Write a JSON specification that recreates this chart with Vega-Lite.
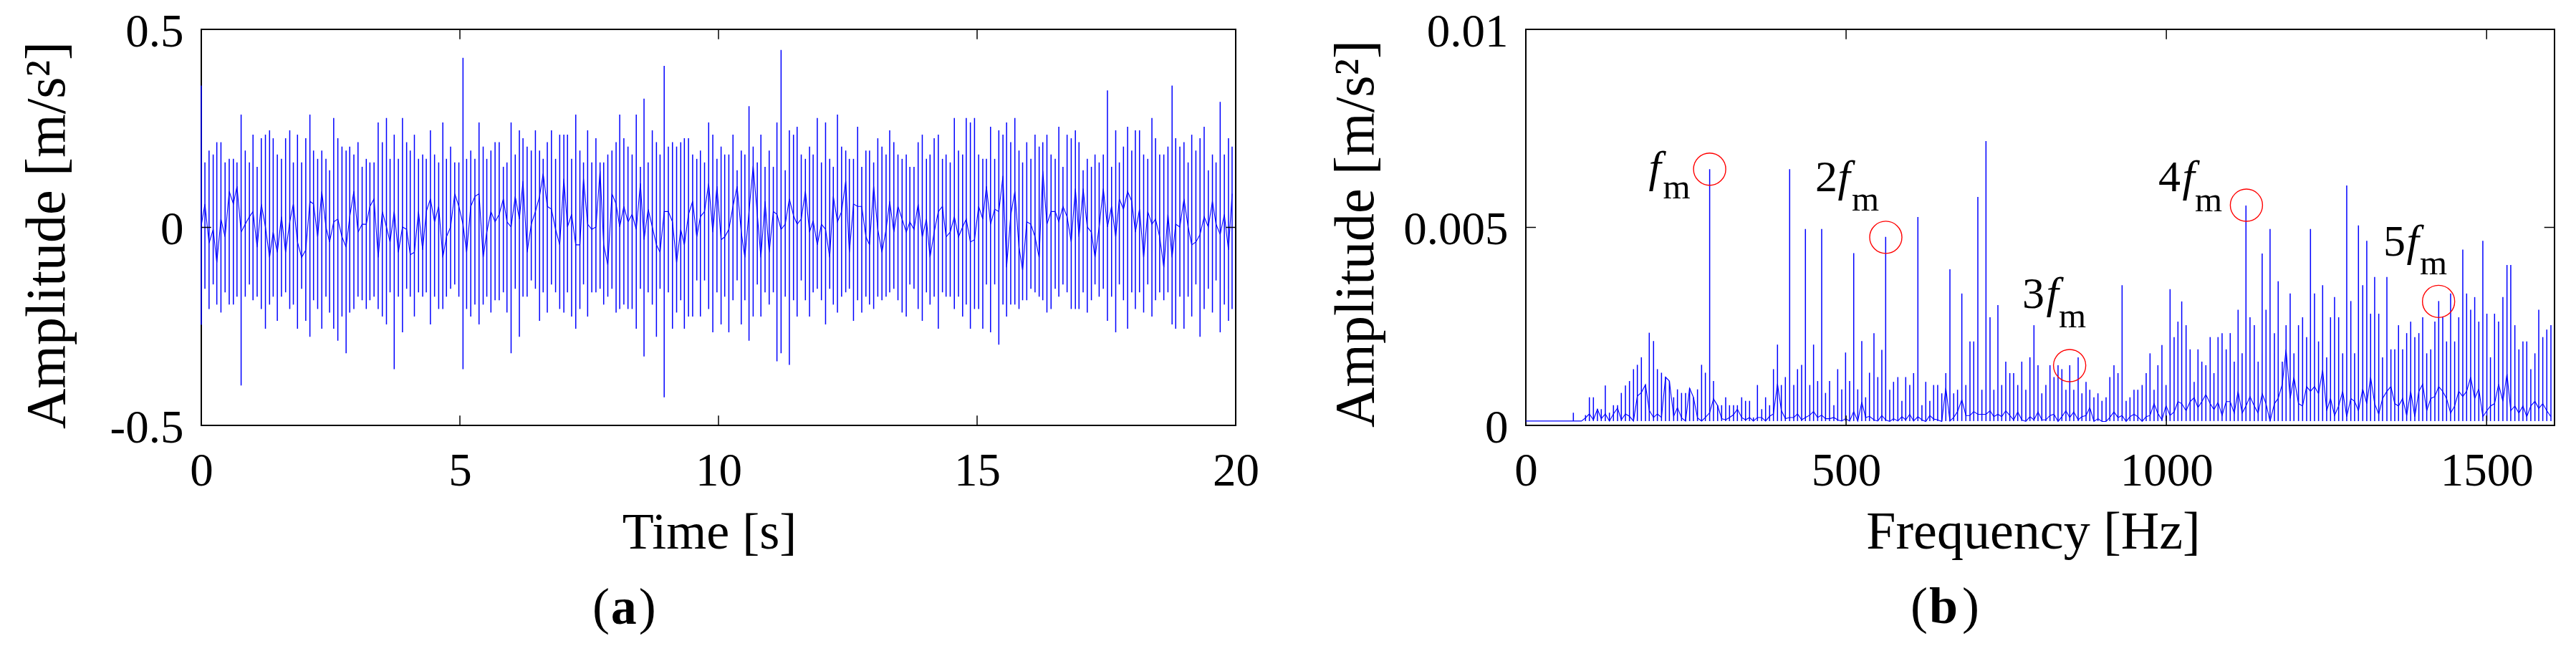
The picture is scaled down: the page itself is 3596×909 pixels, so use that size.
{
"$schema":"https://vega.github.io/schema/vega-lite/v6.json",
"background":"white",
"autosize":"none",
"padding":{"left":281,"top":41,"right":3315,"bottom":868},
"bounds":"flush",
"spacing":405,
"config":{
"view":{"stroke":"#000","strokeWidth":2},
"axis":{"domain":false,"ticks":false,"grid":false,"labelFont":"Liberation Serif","labelFontSize":65,"labelColor":"#000","labelOverlap":false,"labelFlush":false,"titleFont":"Liberation Serif","titleFontSize":72,"titleFontWeight":"normal","titleColor":"#000","titleBaseline":"alphabetic"},
"axisX":{"labelPadding":32},
"axisY":{"labelPadding":25,"labelOffset":3,"titleFontSize":78}
},
"datasets":{
"time":[
{"x":0,"y":0.358,"y2":-0.246,"m":0.005},
{"x":0.07,"y":0.164,"y2":-0.155,"m":0.059},{"x":0.15,"y":0.194,"y2":-0.206,"m":-0.04},{"x":0.23,"y":0.184,"y2":-0.144,"m":-0.005},{"x":0.30,"y":0.215,"y2":-0.195,"m":-0.089},{"x":0.38,"y":0.215,"y2":-0.215,"m":0.021},{"x":0.46,"y":0.164,"y2":-0.164,"m":-0.024},{"x":0.54,"y":0.173,"y2":-0.195,"m":0.091},{"x":0.62,"y":0.173,"y2":-0.195,"m":0.059},{"x":0.69,"y":0.164,"y2":-0.175,"m":0.104},{"x":0.77,"y":0.285,"y2":-0.399,"m":-0.012},
{"x":0.85,"y":0.194,"y2":-0.175,"m":0.008},{"x":0.93,"y":0.164,"y2":-0.144,"m":0.027},{"x":1.00,"y":0.234,"y2":-0.184,"m":0.04},{"x":1.08,"y":0.153,"y2":-0.175,"m":-0.05},{"x":1.16,"y":0.225,"y2":-0.206,"m":0.059},{"x":1.24,"y":0.234,"y2":-0.256,"m":0.001},{"x":1.32,"y":0.245,"y2":-0.195,"m":-0.076},{"x":1.39,"y":0.225,"y2":-0.175,"m":-0.012},{"x":1.47,"y":0.184,"y2":-0.236,"m":-0.063},{"x":1.55,"y":0.173,"y2":-0.175,"m":0.027},
{"x":1.63,"y":0.225,"y2":-0.164,"m":-0.063},{"x":1.71,"y":0.245,"y2":-0.206,"m":0.014},{"x":1.78,"y":0.164,"y2":-0.195,"m":0.059},{"x":1.86,"y":0.234,"y2":-0.256,"m":-0.037},{"x":1.94,"y":0.164,"y2":-0.155,"m":-0.076},{"x":2.02,"y":0.225,"y2":-0.236,"m":-0.057},{"x":2.10,"y":0.285,"y2":-0.276,"m":0.066},{"x":2.17,"y":0.194,"y2":-0.184,"m":0.059},{"x":2.25,"y":0.173,"y2":-0.206,"m":-0.024},{"x":2.33,"y":0.194,"y2":-0.256,"m":0.091},
{"x":2.41,"y":0.173,"y2":-0.175,"m":0.001},{"x":2.48,"y":0.144,"y2":-0.215,"m":-0.037},{"x":2.56,"y":0.276,"y2":-0.256,"m":0.014},{"x":2.64,"y":0.225,"y2":-0.286,"m":0.021},{"x":2.72,"y":0.204,"y2":-0.225,"m":-0.024},{"x":2.80,"y":0.194,"y2":-0.318,"m":-0.05},{"x":2.87,"y":0.204,"y2":-0.215,"m":0.027},{"x":2.95,"y":0.184,"y2":-0.206,"m":0.091},{"x":3.03,"y":0.215,"y2":-0.175,"m":-0.012},{"x":3.11,"y":0.153,"y2":-0.184,"m":0.008},
{"x":3.19,"y":0.173,"y2":-0.206,"m":0.008},{"x":3.26,"y":0.164,"y2":-0.184,"m":0.053},{"x":3.34,"y":0.164,"y2":-0.175,"m":0.072},{"x":3.42,"y":0.265,"y2":-0.206,"m":-0.076},{"x":3.50,"y":0.215,"y2":-0.225,"m":0.04},{"x":3.58,"y":0.276,"y2":-0.245,"m":0.001},{"x":3.65,"y":0.173,"y2":-0.164,"m":-0.037},{"x":3.73,"y":0.234,"y2":-0.358,"m":0.04},{"x":3.81,"y":0.173,"y2":-0.175,"m":-0.063},{"x":3.89,"y":0.276,"y2":-0.265,"m":0.001},
{"x":3.97,"y":0.215,"y2":-0.155,"m":-0.005},{"x":4.04,"y":0.194,"y2":-0.175,"m":-0.069},{"x":4.12,"y":0.234,"y2":-0.225,"m":-0.063},{"x":4.20,"y":0.173,"y2":-0.164,"m":0.04},{"x":4.28,"y":0.184,"y2":-0.175,"m":-0.057},{"x":4.35,"y":0.173,"y2":-0.164,"m":0.04},{"x":4.43,"y":0.245,"y2":-0.245,"m":0.072},{"x":4.51,"y":0.184,"y2":-0.175,"m":0.014},{"x":4.59,"y":0.164,"y2":-0.206,"m":0.053},{"x":4.67,"y":0.265,"y2":-0.206,"m":-0.076},
{"x":4.74,"y":0.173,"y2":-0.175,"m":-0.024},{"x":4.82,"y":0.204,"y2":-0.155,"m":0.001},{"x":4.90,"y":0.164,"y2":-0.144,"m":0.085},{"x":4.98,"y":0.164,"y2":-0.175,"m":0.053},{"x":5.06,"y":0.428,"y2":-0.358,"m":0.008},{"x":5.13,"y":0.173,"y2":-0.206,"m":-0.063},{"x":5.21,"y":0.194,"y2":-0.225,"m":0.053},{"x":5.29,"y":0.173,"y2":-0.195,"m":0.078},{"x":5.37,"y":0.265,"y2":-0.245,"m":0.085},{"x":5.45,"y":0.204,"y2":-0.195,"m":-0.076},
{"x":5.52,"y":0.173,"y2":-0.175,"m":-0.012},{"x":5.60,"y":0.194,"y2":-0.215,"m":0.04},{"x":5.68,"y":0.215,"y2":-0.184,"m":0.014},{"x":5.76,"y":0.215,"y2":-0.184,"m":0.033},{"x":5.84,"y":0.153,"y2":-0.164,"m":0.072},{"x":5.91,"y":0.164,"y2":-0.215,"m":0.014},{"x":5.99,"y":0.265,"y2":-0.318,"m":0.001},{"x":6.07,"y":0.184,"y2":-0.155,"m":0.078},{"x":6.15,"y":0.245,"y2":-0.276,"m":0.021},{"x":6.22,"y":0.225,"y2":-0.175,"m":0.117},
{"x":6.30,"y":0.204,"y2":-0.175,"m":-0.063},{"x":6.38,"y":0.194,"y2":-0.134,"m":0.008},{"x":6.46,"y":0.245,"y2":-0.155,"m":0.04},{"x":6.54,"y":0.194,"y2":-0.236,"m":0.078},{"x":6.61,"y":0.173,"y2":-0.164,"m":0.136},{"x":6.69,"y":0.215,"y2":-0.215,"m":0.053},{"x":6.77,"y":0.245,"y2":-0.144,"m":0.046},{"x":6.85,"y":0.173,"y2":-0.164,"m":-0.005},{"x":6.93,"y":0.234,"y2":-0.206,"m":-0.044},{"x":7.01,"y":0.234,"y2":-0.215,"m":0.123},
{"x":7.08,"y":0.234,"y2":-0.164,"m":0.001},{"x":7.16,"y":0.173,"y2":-0.225,"m":0.033},{"x":7.24,"y":0.285,"y2":-0.256,"m":-0.044},{"x":7.32,"y":0.194,"y2":-0.206,"m":-0.044},{"x":7.39,"y":0.164,"y2":-0.144,"m":0.123},{"x":7.47,"y":0.245,"y2":-0.225,"m":0.008},{"x":7.55,"y":0.164,"y2":-0.164,"m":-0.005},{"x":7.63,"y":0.225,"y2":-0.164,"m":0.001},{"x":7.71,"y":0.164,"y2":-0.155,"m":0.143},{"x":7.78,"y":0.164,"y2":-0.195,"m":-0.044},
{"x":7.86,"y":0.184,"y2":-0.175,"m":-0.095},{"x":7.94,"y":0.194,"y2":-0.155,"m":0.085},{"x":8.02,"y":0.215,"y2":-0.215,"m":0.059},{"x":8.09,"y":0.285,"y2":-0.206,"m":0.001},{"x":8.17,"y":0.225,"y2":-0.195,"m":0.053},{"x":8.25,"y":0.204,"y2":-0.206,"m":0.014},{"x":8.33,"y":0.184,"y2":-0.206,"m":0.033},{"x":8.41,"y":0.285,"y2":-0.256,"m":-0.005},{"x":8.49,"y":0.153,"y2":-0.155,"m":0.111},{"x":8.56,"y":0.325,"y2":-0.326,"m":-0.031},
{"x":8.64,"y":0.164,"y2":-0.164,"m":0.046},{"x":8.72,"y":0.245,"y2":-0.195,"m":0.001},{"x":8.80,"y":0.215,"y2":-0.276,"m":-0.044},{"x":8.87,"y":0.184,"y2":-0.155,"m":-0.063},{"x":8.95,"y":0.408,"y2":-0.429,"m":0.04},{"x":9.03,"y":0.204,"y2":-0.164,"m":0.04},{"x":9.11,"y":0.215,"y2":-0.256,"m":0.014},{"x":9.19,"y":0.204,"y2":-0.215,"m":-0.089},{"x":9.27,"y":0.215,"y2":-0.184,"m":-0.005},{"x":9.34,"y":0.225,"y2":-0.256,"m":-0.044},
{"x":9.42,"y":0.225,"y2":-0.225,"m":0.033},{"x":9.50,"y":0.184,"y2":-0.225,"m":0.066},{"x":9.58,"y":0.173,"y2":-0.134,"m":-0.024},{"x":9.65,"y":0.194,"y2":-0.225,"m":0.027},{"x":9.73,"y":0.164,"y2":-0.134,"m":0.04},{"x":9.81,"y":0.265,"y2":-0.206,"m":0.111},{"x":9.89,"y":0.234,"y2":-0.265,"m":-0.012},{"x":9.97,"y":0.173,"y2":-0.164,"m":0.104},{"x":10.05,"y":0.204,"y2":-0.245,"m":-0.031},{"x":10.12,"y":0.184,"y2":-0.175,"m":-0.024},
{"x":10.20,"y":0.184,"y2":-0.265,"m":-0.005},{"x":10.28,"y":0.234,"y2":-0.184,"m":0.053},{"x":10.36,"y":0.144,"y2":-0.134,"m":0.104},{"x":10.44,"y":0.194,"y2":-0.245,"m":-0.012},{"x":10.51,"y":0.184,"y2":-0.184,"m":-0.076},{"x":10.59,"y":0.306,"y2":-0.286,"m":0.04},{"x":10.67,"y":0.204,"y2":-0.225,"m":0.155},{"x":10.75,"y":0.164,"y2":-0.144,"m":0.033},{"x":10.82,"y":0.234,"y2":-0.225,"m":-0.076},{"x":10.90,"y":0.153,"y2":-0.164,"m":0.066},
{"x":10.98,"y":0.194,"y2":-0.195,"m":-0.063},{"x":11.06,"y":0.153,"y2":-0.164,"m":0.04},{"x":11.13,"y":0.265,"y2":-0.338,"m":0.033},{"x":11.21,"y":0.448,"y2":-0.318,"m":-0.005},{"x":11.29,"y":0.144,"y2":-0.175,"m":0.008},{"x":11.37,"y":0.245,"y2":-0.347,"m":0.072},{"x":11.45,"y":0.234,"y2":-0.184,"m":0.03},{"x":11.52,"y":0.254,"y2":-0.225,"m":0.008},{"x":11.60,"y":0.184,"y2":-0.134,"m":0.021},{"x":11.68,"y":0.173,"y2":-0.184,"m":0.091},
{"x":11.76,"y":0.204,"y2":-0.225,"m":-0.012},{"x":11.83,"y":0.184,"y2":-0.164,"m":0.017},{"x":11.91,"y":0.276,"y2":-0.155,"m":-0.044},{"x":11.99,"y":0.164,"y2":-0.184,"m":0.008},{"x":12.07,"y":0.265,"y2":-0.245,"m":-0.005},{"x":12.15,"y":0.173,"y2":-0.155,"m":-0.076},{"x":12.22,"y":0.153,"y2":-0.195,"m":0.078},{"x":12.30,"y":0.285,"y2":-0.215,"m":0.014},{"x":12.38,"y":0.204,"y2":-0.175,"m":0.04},{"x":12.46,"y":0.194,"y2":-0.164,"m":0.117},
{"x":12.53,"y":0.173,"y2":-0.155,"m":-0.063},{"x":12.61,"y":0.173,"y2":-0.236,"m":0.059},{"x":12.69,"y":0.254,"y2":-0.184,"m":0.053},{"x":12.77,"y":0.153,"y2":-0.215,"m":0.053},{"x":12.85,"y":0.194,"y2":-0.175,"m":-0.024},{"x":12.92,"y":0.194,"y2":-0.195,"m":-0.044},{"x":13.00,"y":0.164,"y2":-0.206,"m":0.104},{"x":13.08,"y":0.225,"y2":-0.175,"m":-0.005},{"x":13.16,"y":0.204,"y2":-0.184,"m":-0.063},{"x":13.24,"y":0.184,"y2":-0.175,"m":-0.005},
{"x":13.31,"y":0.245,"y2":-0.164,"m":0.066},{"x":13.39,"y":0.215,"y2":-0.155,"m":-0.012},{"x":13.47,"y":0.184,"y2":-0.184,"m":0.053},{"x":13.55,"y":0.173,"y2":-0.215,"m":0.021},{"x":13.63,"y":0.184,"y2":-0.225,"m":-0.012},{"x":13.70,"y":0.153,"y2":-0.144,"m":0.014},{"x":13.78,"y":0.153,"y2":-0.155,"m":-0.005},{"x":13.86,"y":0.215,"y2":-0.206,"m":0.059},{"x":13.94,"y":0.234,"y2":-0.236,"m":-0.024},{"x":14.02,"y":0.173,"y2":-0.164,"m":0.021},
{"x":14.09,"y":0.184,"y2":-0.195,"m":-0.076},{"x":14.17,"y":0.225,"y2":-0.175,"m":-0.012},{"x":14.25,"y":0.234,"y2":-0.256,"m":0.04},{"x":14.33,"y":0.173,"y2":-0.164,"m":0.053},{"x":14.40,"y":0.184,"y2":-0.175,"m":-0.024},{"x":14.48,"y":0.164,"y2":-0.175,"m":-0.012},{"x":14.56,"y":0.276,"y2":-0.206,"m":0.027},{"x":14.64,"y":0.194,"y2":-0.175,"m":-0.024},{"x":14.72,"y":0.184,"y2":-0.225,"m":0.001},{"x":14.79,"y":0.276,"y2":-0.195,"m":0.021},
{"x":14.87,"y":0.265,"y2":-0.256,"m":-0.037},{"x":14.95,"y":0.276,"y2":-0.206,"m":-0.031},{"x":15.03,"y":0.184,"y2":-0.206,"m":0.053},{"x":15.11,"y":0.173,"y2":-0.256,"m":0.021},{"x":15.18,"y":0.173,"y2":-0.144,"m":0.104},{"x":15.26,"y":0.254,"y2":-0.265,"m":0.008},{"x":15.34,"y":0.173,"y2":-0.144,"m":0.046},{"x":15.42,"y":0.245,"y2":-0.296,"m":0.04},{"x":15.50,"y":0.234,"y2":-0.195,"m":0.13},{"x":15.57,"y":0.265,"y2":-0.225,"m":-0.101},
{"x":15.65,"y":0.215,"y2":-0.195,"m":0.03},{"x":15.73,"y":0.276,"y2":-0.195,"m":0.091},{"x":15.81,"y":0.194,"y2":-0.206,"m":-0.05},{"x":15.88,"y":0.164,"y2":-0.184,"m":-0.108},{"x":15.96,"y":0.215,"y2":-0.184,"m":0.014},{"x":16.04,"y":0.173,"y2":-0.155,"m":0.008},{"x":16.12,"y":0.234,"y2":-0.164,"m":-0.024},{"x":16.20,"y":0.204,"y2":-0.175,"m":-0.076},{"x":16.27,"y":0.215,"y2":-0.184,"m":0.143},{"x":16.35,"y":0.234,"y2":-0.215,"m":0.008},
{"x":16.43,"y":0.184,"y2":-0.206,"m":0.04},{"x":16.51,"y":0.173,"y2":-0.155,"m":0.04},{"x":16.58,"y":0.254,"y2":-0.175,"m":0.014},{"x":16.66,"y":0.153,"y2":-0.144,"m":0.053},{"x":16.74,"y":0.234,"y2":-0.164,"m":0.027},{"x":16.82,"y":0.225,"y2":-0.206,"m":-0.037},{"x":16.90,"y":0.245,"y2":-0.206,"m":0.098},{"x":16.97,"y":0.215,"y2":-0.206,"m":-0.024},{"x":17.05,"y":0.144,"y2":-0.164,"m":0.098},{"x":17.13,"y":0.173,"y2":-0.215,"m":0.001},
{"x":17.21,"y":0.153,"y2":-0.184,"m":-0.012},{"x":17.28,"y":0.184,"y2":-0.144,"m":-0.076},{"x":17.36,"y":0.164,"y2":-0.175,"m":0.001},{"x":17.44,"y":0.184,"y2":-0.155,"m":0.098},{"x":17.52,"y":0.346,"y2":-0.236,"m":0.001},{"x":17.60,"y":0.153,"y2":-0.175,"m":0.053},{"x":17.68,"y":0.245,"y2":-0.265,"m":-0.024},{"x":17.75,"y":0.164,"y2":-0.144,"m":0.072},{"x":17.83,"y":0.204,"y2":-0.184,"m":0.046},{"x":17.91,"y":0.254,"y2":-0.256,"m":0.091},
{"x":17.99,"y":0.194,"y2":-0.164,"m":0.066},{"x":18.06,"y":0.245,"y2":-0.206,"m":-0.012},{"x":18.14,"y":0.245,"y2":-0.164,"m":0.046},{"x":18.22,"y":0.184,"y2":-0.215,"m":-0.076},{"x":18.30,"y":0.173,"y2":-0.144,"m":0.04},{"x":18.38,"y":0.276,"y2":-0.225,"m":0.008},{"x":18.45,"y":0.225,"y2":-0.184,"m":0.021},{"x":18.53,"y":0.184,"y2":-0.164,"m":-0.024},{"x":18.61,"y":0.184,"y2":-0.184,"m":-0.101},{"x":18.69,"y":0.204,"y2":-0.164,"m":0.033},
{"x":18.77,"y":0.358,"y2":-0.245,"m":-0.076},{"x":18.84,"y":0.225,"y2":-0.256,"m":0.008},{"x":18.92,"y":0.204,"y2":-0.175,"m":0.001},{"x":19.00,"y":0.215,"y2":-0.256,"m":0.072},{"x":19.08,"y":0.164,"y2":-0.175,"m":0.001},{"x":19.15,"y":0.234,"y2":-0.225,"m":-0.044},{"x":19.23,"y":0.194,"y2":-0.144,"m":-0.037},{"x":19.31,"y":0.225,"y2":-0.276,"m":-0.018},{"x":19.39,"y":0.254,"y2":-0.206,"m":0.027},{"x":19.47,"y":0.144,"y2":-0.155,"m":0.001},
{"x":19.55,"y":0.184,"y2":-0.215,"m":0.066},{"x":19.62,"y":0.164,"y2":-0.134,"m":0.008},{"x":19.70,"y":0.317,"y2":-0.265,"m":-0.018},{"x":19.78,"y":0.184,"y2":-0.195,"m":0.033},{"x":19.86,"y":0.225,"y2":-0.236,"m":-0.057},{"x":19.93,"y":0.204,"y2":-0.206,"m":0.085}
],
"freq":[
{"x":0,"y":0.00011,"m":0.00011},{"x":74.2,"y":0.00032,"m":0.00011},{"x":86.9,"y":0.00011,"m":0.00011},{"x":93.2,"y":0.00026,"m":0.00019},{"x":99.2,"y":0.00071,"m":0.00029},{"x":105.5,"y":0.00071,"m":0.00014},{"x":111.8,"y":0.00041,"m":0.00041},{"x":117.8,"y":0.00041,"m":0.00017},{"x":124.1,"y":0.00101,"m":0.00029},{"x":130.5,"y":0.00032,"m":0.00011},{"x":136.8,"y":0.00051,"m":0.00029},{"x":143.2,"y":0.00051,"m":0.00044},{"x":149.1,"y":0.00082,"m":0.00014},{"x":155.5,"y":0.00101,"m":0.00029},{"x":161.8,"y":0.00112,"m":0.00023},{"x":168.1,"y":0.00142,"m":0.00011},{"x":174.1,"y":0.00153,"m":0.00074},{"x":180.4,"y":0.00172,"m":0.00083},{"x":186.8,"y":0.00103,"m":0.00103},{"x":192.7,"y":0.00234,"m":0.00038},{"x":199.4,"y":0.00213,"m":0.0002},{"x":205.4,"y":0.00142,"m":0.00029},{"x":211.8,"y":0.00133,"m":0.0002},{"x":218.1,"y":0.00122,"m":0.00122},{"x":224.1,"y":0.00112,"m":0.00112},{"x":230.8,"y":0.00071,"m":0.00023},{"x":236.7,"y":0.00091,"m":0.00045},{"x":243.1,"y":0.00082,"m":0.00019},{"x":249.4,"y":0.00082,"m":0.00011},{"x":255.7,"y":0.00094,"m":0.00094},{"x":261.7,"y":0.00071,"m":0.00071},{"x":268,"y":0.00091,"m":0.00019},{"x":274.4,"y":0.00153,"m":0.00011},{"x":280.3,"y":0.00133,"m":0.0002},{"x":287,"y":0.00647,"m":0.00032},{"x":293,"y":0.00112,"m":0.00067},{"x":299.4,"y":0.00051,"m":0.0005},{"x":305.7,"y":0.00051,"m":0.00017},{"x":312,"y":0.00071,"m":0.00014},{"x":318,"y":0.00051,"m":0.0002},{"x":324.3,"y":0.00051,"m":0.00027},{"x":330.3,"y":0.00051,"m":0.00041},{"x":337,"y":0.00071,"m":0.0002},{"x":343,"y":0.00062,"m":0.00014},{"x":349.3,"y":0.00062,"m":0.0002},{"x":355.3,"y":0.0002,"m":0.00011},{"x":361.6,"y":0.00102,"m":0.0002},{"x":368.3,"y":0.00041,"m":0.0002},{"x":374.3,"y":0.00071,"m":0.00011},{"x":380.6,"y":0.00051,"m":0.00023},{"x":386.6,"y":0.00142,"m":0.00029},{"x":392.9,"y":0.00204,"m":0.00105},{"x":398.9,"y":0.00102,"m":0.00038},{"x":405.2,"y":0.00122,"m":0.00017},{"x":411.9,"y":0.00647,"m":0.0002},{"x":418.3,"y":0.00102,"m":0.0002},{"x":424.2,"y":0.00142,"m":0.00029},{"x":430.6,"y":0.00153,"m":0.00014},{"x":436.5,"y":0.00496,"m":0.0002},{"x":443.3,"y":0.00102,"m":0.00026},{"x":449.2,"y":0.00204,"m":0.00035},{"x":455.6,"y":0.00112,"m":0.0002},{"x":461.9,"y":0.00496,"m":0.00026},{"x":467.9,"y":0.00082,"m":0.00017},{"x":474.2,"y":0.00112,"m":0.00017},{"x":480.9,"y":0.00051,"m":0.0002},{"x":486.9,"y":0.00142,"m":0.00014},{"x":493.2,"y":0.00091,"m":0.00011},{"x":499.2,"y":0.00184,"m":0.00017},{"x":505.5,"y":0.00112,"m":0.00011},{"x":511.9,"y":0.00435,"m":0.00035},{"x":518.2,"y":0.00091,"m":0.00011},{"x":524.5,"y":0.00213,"m":0.00059},{"x":530.5,"y":0.00071,"m":0.0002},{"x":536.5,"y":0.00133,"m":0.00023},
{"x":543.5,"y":0.00233,"m":0.00014},{"x":549.5,"y":0.00122,"m":0.00011},{"x":555.8,"y":0.00191,"m":0.00025},{"x":561.8,"y":0.00476,"m":0.00014},{"x":568.1,"y":0.0009,"m":0.0001},{"x":574.1,"y":0.0011,"m":0.00017},{"x":580.8,"y":0.00122,"m":0.00011},{"x":587.1,"y":0.00062,"m":0.00022},{"x":593.1,"y":0.00122,"m":0.00014},{"x":599.4,"y":0.00102,"m":0.00028},{"x":605.4,"y":0.00132,"m":0.00011},{"x":612.1,"y":0.00526,"m":0.00022},{"x":618.4,"y":0.00051,"m":0.00014},{"x":624.4,"y":0.0011,"m":0.0001},{"x":630.7,"y":0.00062,"m":0.00025},{"x":636.7,"y":0.00102,"m":0.00016},{"x":643,"y":0.00102,"m":0.00014},{"x":649.4,"y":0.00081,"m":0.0001},{"x":655.7,"y":0.00132,"m":0.00095},{"x":662.1,"y":0.00394,"m":0.00011},{"x":668,"y":0.00081,"m":0.0002},{"x":674,"y":0.0009,"m":0.00035},{"x":680.7,"y":0.00333,"m":0.00065},{"x":687,"y":0.00102,"m":0.00025},{"x":693.4,"y":0.00212,"m":0.00025},{"x":699.3,"y":0.00212,"m":0.00035},{"x":705.7,"y":0.00577,"m":0.00028},{"x":712,"y":0.0009,"m":0.00028},{"x":718.4,"y":0.00718,"m":0.00028},{"x":724.7,"y":0.00273,"m":0.00037},{"x":730.7,"y":0.0009,"m":0.00022},{"x":737,"y":0.00304,"m":0.00028},{"x":743,"y":0.00102,"m":0.00022},{"x":749.3,"y":0.00161,"m":0.00037},{"x":755.6,"y":0.00132,"m":0.00025},{"x":761.6,"y":0.00132,"m":0.00014},{"x":768,"y":0.00102,"m":0.00034},{"x":774.3,"y":0.00161,"m":0.00014},{"x":780.6,"y":0.0009,"m":0.0001},{"x":787,"y":0.00172,"m":0.00022},{"x":793.3,"y":0.00253,"m":0.00014},{"x":799.6,"y":0.00152,"m":0.00034},{"x":805.6,"y":0.00081,"m":0.00014},{"x":811.9,"y":0.00102,"m":0.00014},{"x":818.3,"y":0.00152,"m":0.00025},{"x":824.6,"y":0.00122,"m":0.00028},{"x":830.9,"y":0.00152,"m":0.0001},{"x":836.9,"y":0.00142,"m":0.00022},{"x":843.2,"y":0.0009,"m":0.00037},{"x":849.2,"y":0.00152,"m":0.0002},{"x":855.5,"y":0.0009,"m":0.00034},{"x":862.3,"y":0.00172,"m":0.00014},{"x":868.2,"y":0.00081,"m":0.00022},{"x":874.6,"y":0.0011,"m":0.00025},{"x":880.5,"y":0.0009,"m":0.00045},{"x":886.9,"y":0.00071,"m":0.0001},{"x":893.2,"y":0.00081,"m":0.00017},{"x":899.5,"y":0.00062,"m":0.0001},{"x":905.9,"y":0.00071,"m":0.0001},{"x":911.8,"y":0.00122,"m":0.0002},{"x":918.2,"y":0.00152,"m":0.00034},{"x":924.5,"y":0.00132,"m":0.0002},{"x":930.9,"y":0.00354,"m":0.00025},{"x":937.2,"y":0.00062,"m":0.0001},{"x":943.2,"y":0.00071,"m":0.00022},{"x":949.5,"y":0.0009,"m":0.00028},{"x":955.5,"y":0.0009,"m":0.00022},{"x":962.2,"y":0.00102,"m":0.0001},{"x":968.5,"y":0.00132,"m":0.00022},{"x":974.5,"y":0.00182,"m":0.00025},{"x":980.8,"y":0.0009,"m":0.00055},{"x":986.8,"y":0.00152,"m":0.0003},{"x":993.1,"y":0.00203,"m":0.00014},{"x":999.5,"y":0.00102,"m":0.0005},{"x":1005.8,"y":0.00344,"m":0.00025},{"x":1012.1,"y":0.00223,"m":0.00034},{"x":1018.1,"y":0.00262,"m":0.0006},{"x":1024,"y":0.00313,"m":0.00055},{"x":1030.8,"y":0.00253,"m":0.00037},{"x":1037.1,"y":0.00192,"m":0.0006},{"x":1043.4,"y":0.0011,"m":0.0007},{"x":1049.4,"y":0.00192,"m":0.00045},{"x":1055.4,"y":0.00161,"m":0.0006},{"x":1061.7,"y":0.00152,"m":0.00078},{"x":1068.4,"y":0.00223,"m":0.00055},
{"x":1074.3,"y":0.00132,"m":0.0004},{"x":1080.7,"y":0.00223,"m":0.00058},{"x":1087,"y":0.00233,"m":0.00025},{"x":1093.4,"y":0.00192,"m":0.0006},{"x":1099.7,"y":0.00233,"m":0.0006},{"x":1106,"y":0.00161,"m":0.00031},{"x":1112,"y":0.00292,"m":0.00086},{"x":1118.3,"y":0.00182,"m":0.00031},{"x":1124.3,"y":0.00555,"m":0.00049},{"x":1130.6,"y":0.00273,"m":0.00073},{"x":1137.3,"y":0.00253,"m":0.00049},{"x":1143.3,"y":0.00161,"m":0.00031},{"x":1149.6,"y":0.00434,"m":0.0008},{"x":1155.6,"y":0.00292,"m":0.00055},{"x":1161.9,"y":0.00496,"m":0.0001},{"x":1168.7,"y":0.00233,"m":0.00055},{"x":1174.6,"y":0.00364,"m":0.00068},{"x":1181,"y":0.00161,"m":0.00104},{"x":1186.9,"y":0.00253,"m":0.00192},{"x":1193.3,"y":0.00333,"m":0.00068},{"x":1199.2,"y":0.00182,"m":0.00122},{"x":1206.3,"y":0.00253,"m":0.00055},{"x":1212.7,"y":0.00273,"m":0.00049},{"x":1219,"y":0.00223,"m":0.00098},{"x":1225,"y":0.00496,"m":0.00086},{"x":1231.3,"y":0.00333,"m":0.00098},{"x":1237.6,"y":0.00212,"m":0.0008},{"x":1244,"y":0.00354,"m":0.0014},{"x":1250.3,"y":0.00172,"m":0.00037},{"x":1256.3,"y":0.00273,"m":0.00068},{"x":1262.6,"y":0.00324,"m":0.00025},{"x":1269,"y":0.00273,"m":0.00049},{"x":1275.3,"y":0.00182,"m":0.00086},{"x":1281.6,"y":0.00606,"m":0.00022},{"x":1288,"y":0.00314,"m":0.00068},{"x":1293.9,"y":0.00182,"m":0.00061},{"x":1299.9,"y":0.00505,"m":0.00037},{"x":1306.6,"y":0.00354,"m":0.00092},{"x":1312.9,"y":0.00466,"m":0.00055},{"x":1318.9,"y":0.00282,"m":0.00122},{"x":1325.2,"y":0.00375,"m":0.00055},{"x":1331.6,"y":0.00282,"m":0.00028},{"x":1337.5,"y":0.00172,"m":0.00068},{"x":1344.3,"y":0.00375,"m":0.00086},{"x":1350.6,"y":0.00192,"m":0.00098},{"x":1356.6,"y":0.00192,"m":0.00055},{"x":1362.5,"y":0.00253,"m":0.00049},{"x":1368.9,"y":0.00192,"m":0.00068},{"x":1375.2,"y":0.00233,"m":0.00025},{"x":1381.5,"y":0.00262,"m":0.00086},{"x":1387.9,"y":0.00223,"m":0.00022},{"x":1394.2,"y":0.00233,"m":0.00086},{"x":1400.2,"y":0.00273,"m":0.00104},{"x":1406.5,"y":0.00182,"m":0.00037},{"x":1412.8,"y":0.00192,"m":0.00068},{"x":1419.2,"y":0.00262,"m":0.00073},{"x":1425.2,"y":0.00314,"m":0.00098},{"x":1431.5,"y":0.00273,"m":0.00086},{"x":1437.5,"y":0.00212,"m":0.00068},{"x":1443.8,"y":0.00333,"m":0.00031},{"x":1450.1,"y":0.00212,"m":0.00049},{"x":1456.5,"y":0.00273,"m":0.00086},{"x":1462.8,"y":0.00444,"m":0.00073},{"x":1468.8,"y":0.00333,"m":0.00086},{"x":1475.1,"y":0.00292,"m":0.00122},{"x":1481.4,"y":0.00324,"m":0.00068},{"x":1487.8,"y":0.00262,"m":0.00092},{"x":1494.1,"y":0.00466,"m":0.00022},{"x":1500.4,"y":0.00282,"m":0.00037},{"x":1506,"y":0.00172,"m":0.00049},{"x":1512.4,"y":0.00282,"m":0.00055},{"x":1518.7,"y":0.00262,"m":0.00104},{"x":1525.4,"y":0.00324,"m":0.00061},{"x":1531.8,"y":0.00405,"m":0.0013},{"x":1537.7,"y":0.00405,"m":0.00037},{"x":1544.1,"y":0.00253,"m":0.00049},{"x":1550.4,"y":0.00192,"m":0.00031},{"x":1556.7,"y":0.00212,"m":0.00049},{"x":1562.7,"y":0.00212,"m":0.00022},{"x":1569,"y":0.00142,"m":0.00049},{"x":1575.4,"y":0.00182,"m":0.00061},{"x":1581.4,"y":0.00292,"m":0.00043},{"x":1587.7,"y":0.00223,"m":0.00055},{"x":1594,"y":0.00242,"m":0.00037},{"x":1600.4,"y":0.00253,"m":0.00022}
],
"timeTicks":[
{"x":5,"x2":5,"y":-0.5,"y2":-0.475},{"x":10,"x2":10,"y":-0.5,"y2":-0.475},{"x":15,"x2":15,"y":-0.5,"y2":-0.475},
{"x":5,"x2":5,"y":0.5,"y2":0.475},{"x":10,"x2":10,"y":0.5,"y2":0.475},{"x":15,"x2":15,"y":0.5,"y2":0.475},
{"x":0,"x2":0.19,"y":0,"y2":0},{"x":20,"x2":19.81,"y":0,"y2":0}
],
"freqTicks":[
{"x":500,"x2":500,"y":0,"y2":0.00025},{"x":1000,"x2":1000,"y":0,"y2":0.00025},{"x":1500,"x2":1500,"y":0,"y2":0.00025},
{"x":500,"x2":500,"y":0.01,"y2":0.00975},{"x":1000,"x2":1000,"y":0.01,"y2":0.00975},{"x":1500,"x2":1500,"y":0.01,"y2":0.00975},
{"x":0,"x2":15.7,"y":0.005,"y2":0.005},{"x":1606,"x2":1590,"y":0.005,"y2":0.005}
],
"circles":[{"x":287,"y":0.00647},{"x":562,"y":0.00475},{"x":849,"y":0.00151},{"x":1125,"y":0.00556},{"x":1425,"y":0.00313}],
"notes":[
{"x":201.3,"y":0.00615,"text":"f","kind":"f"},{"x":214.2,"y":0.00573,"text":"m","kind":"m"},
{"x":451.8,"y":0.00591,"text":"2","kind":"n"},{"x":496.6,"y":0.00591,"text":"f","kind":"f"},{"x":508.9,"y":0.00542,"text":"m","kind":"m"},
{"x":775,"y":0.00297,"text":"3","kind":"n"},{"x":822,"y":0.00297,"text":"f","kind":"f"},{"x":832,"y":0.00248,"text":"m","kind":"m"},
{"x":987.5,"y":0.00591,"text":"4","kind":"n"},{"x":1034.5,"y":0.00591,"text":"f","kind":"f"},{"x":1044.6,"y":0.00541,"text":"m","kind":"m"},
{"x":1338.7,"y":0.00429,"text":"5","kind":"n"},{"x":1384.6,"y":0.00429,"text":"f","kind":"f"},{"x":1395.8,"y":0.00382,"text":"m","kind":"m"}
]
},
"hconcat":[
{
"width":1444,"height":553,
"encoding":{
"x":{"field":"x","type":"quantitative","scale":{"domain":[0,20],"nice":false,"zero":false},"axis":{"values":[0,5,10,15,20],"title":"Time [s]","titleX":709,"titleY":171}},
"y":{"field":"y","type":"quantitative","scale":{"domain":[-0.5,0.5],"nice":false,"zero":false},"axis":{"values":[-0.5,0,0.5],"format":"~g","title":"Amplitude [m/s²]","titleX":-192,"titleY":287,"labelExpr":"datum.value==-0.5?'-0.5':datum.label"}}
},
"layer":[
{"data":{"name":"time"},"mark":{"type":"rule","color":"#0000ff","strokeWidth":1.5},"encoding":{"y2":{"field":"y2"}}},
{"data":{"name":"time"},"mark":{"type":"line","color":"#0000ff","strokeWidth":1.1},"encoding":{"y":{"field":"m","type":"quantitative","scale":{"domain":[-0.5,0.5],"nice":false,"zero":false},"axis":{"values":[-0.5,0,0.5],"format":"~g","title":"Amplitude [m/s²]","titleX":-192,"titleY":287,"labelExpr":"datum.value==-0.5?'-0.5':datum.label"}}}},
{"data":{"name":"timeTicks"},"mark":{"type":"rule","color":"#000","strokeWidth":1.5},"encoding":{"x2":{"field":"x2"},"y2":{"field":"y2"}}},
{"data":{"values":[{"x":7.562,"y":-1,"text":"("},{"x":8.46,"y":-1,"text":")"}]},"mark":{"type":"text","font":"Liberation Serif","fontSize":72,"align":"left","baseline":"alphabetic","color":"#000"},"encoding":{"text":{"field":"text"}}},
{"data":{"values":[{"x":7.92,"y":-1,"text":"a"}]},"mark":{"type":"text","font":"Liberation Serif","fontSize":72,"fontWeight":"bold","align":"left","baseline":"alphabetic","color":"#000"},"encoding":{"text":{"field":"text"}}}
]
},
{
"width":1436,"height":553,
"encoding":{
"x":{"field":"x","type":"quantitative","scale":{"domain":[0,1606],"nice":false,"zero":false},"axis":{"values":[0,500,1000,1500],"format":"d","title":"Frequency [Hz]","titleX":708,"titleY":171,"titleFontSize":74}},
"y":{"field":"y","type":"quantitative","scale":{"domain":[0,0.01],"nice":false,"zero":false},"axis":{"values":[0,0.005,0.01],"format":"~g","title":"Amplitude [m/s²]","titleX":-214,"titleY":285}}
},
"layer":[
{"data":{"name":"freq"},"mark":{"type":"rule","color":"#0000ff","strokeWidth":1.5},"encoding":{"y2":{"datum":0.00011}}},
{"data":{"name":"freq"},"mark":{"type":"line","color":"#0000ff","strokeWidth":1.1},"encoding":{"y":{"field":"m","type":"quantitative","scale":{"domain":[0,0.01],"nice":false,"zero":false},"axis":{"values":[0,0.005,0.01],"format":"~g","title":"Amplitude [m/s²]","titleX":-214,"titleY":285}}}},
{"data":{"name":"freqTicks"},"mark":{"type":"rule","color":"#000","strokeWidth":1.5},"encoding":{"x2":{"field":"x2"},"y2":{"field":"y2"}}},
{"data":{"name":"circles"},"mark":{"type":"point","shape":"circle","filled":false,"color":"#ff0000","size":2025,"strokeWidth":1.4,"opacity":1}},
{"data":{"name":"notes"},"transform":[{"filter":"datum.kind=='n'"}],"mark":{"type":"text","font":"Liberation Serif","fontSize":62,"align":"left","baseline":"alphabetic","color":"#000"},"encoding":{"text":{"field":"text"}}},
{"data":{"name":"notes"},"transform":[{"filter":"datum.kind=='f'"}],"mark":{"type":"text","font":"Liberation Serif","fontSize":62,"fontStyle":"italic","align":"center","baseline":"alphabetic","color":"#000"},"encoding":{"text":{"field":"text"}}},
{"data":{"name":"notes"},"transform":[{"filter":"datum.kind=='m'"}],"mark":{"type":"text","font":"Liberation Serif","fontSize":49,"align":"left","baseline":"alphabetic","color":"#000"},"encoding":{"text":{"field":"text"}}},
{"data":{"values":[{"x":600.6,"y":-0.00499,"text":"("},{"x":681,"y":-0.00499,"text":")"}]},"mark":{"type":"text","font":"Liberation Serif","fontSize":72,"align":"left","baseline":"alphabetic","color":"#000"},"encoding":{"text":{"field":"text"}}},
{"data":{"values":[{"x":629.7,"y":-0.00499,"text":"b"}]},"mark":{"type":"text","font":"Liberation Serif","fontSize":72,"fontWeight":"bold","align":"left","baseline":"alphabetic","color":"#000"},"encoding":{"text":{"field":"text"}}}
]
}
]
}
